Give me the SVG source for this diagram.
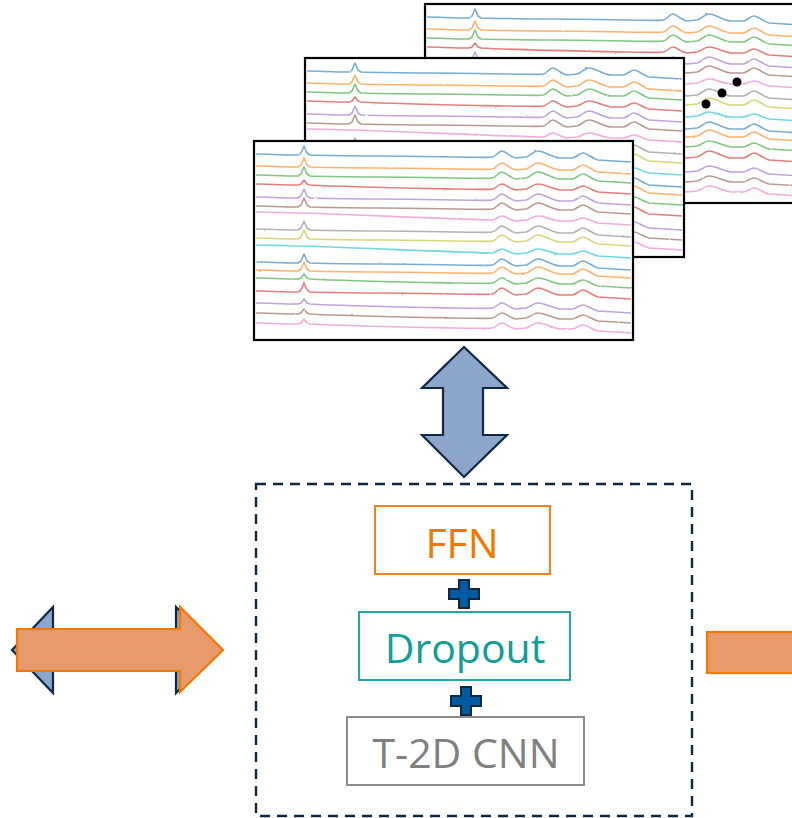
<svg xmlns="http://www.w3.org/2000/svg" xmlns:xlink="http://www.w3.org/1999/xlink" width="792" height="818" viewBox="0 0 792 818">
<style>
.panel{fill:#fff;stroke:#000;stroke-width:2}
.sp{fill:none;stroke-width:1.6;stroke-opacity:0.6;stroke-linejoin:round}
.lbl{font-family:"Open Sans","Noto Sans",sans-serif;font-size:41px;font-weight:500;text-anchor:middle}
.plus{fill:#005BA2;stroke:#0E2841;stroke-width:2;stroke-linejoin:miter}
.bluearrow{fill:#8EA5CB;stroke:#0E2841;stroke-width:2.2;stroke-linejoin:miter}
.orangearrow{fill:#E99A6B;stroke:#F07800;stroke-width:2.2;stroke-linejoin:miter}
</style>
<defs>
<clipPath id="clipPanel"><rect x="0" y="0" width="379" height="199"/></clipPath>
<filter id="noise" x="-5%" y="-5%" width="110%" height="110%">
<feTurbulence type="fractalNoise" baseFrequency="0.25" numOctaves="2" seed="3" result="t"/>
<feDisplacementMap in="SourceGraphic" in2="t" scale="1.6" xChannelSelector="R" yChannelSelector="G"/>
</filter>
<path id="sA" d="M2,0 C12,0 30,1 44,1 L47,-1 L50,-8 L53,-1 L56,1 C90,2 150,2 200,3 C220,3 232,4 238,3 C242,3 244,-3 248,-3 C252,-3 255,3 262,4 L272,3 C277,2 279,-3 284,-3 C291,-3 296,3 306,4 L318,4 C322,4 325,-1 329,-1 C333,-1 337,4 344,6 L377,8"/>
<path id="sC" d="M2,0 C12,0 30,1 44,1 L47,0 L50,-4 L53,0 L56,1 C90,3 150,4 200,5 C220,5 232,6 238,5 C242,5 244,0 248,0 C252,0 255,5 262,6 L272,5 C277,4 279,0 284,0 C291,0 296,4 306,6 L318,6 C322,6 325,2 329,2 C333,2 337,6 344,8 L377,10"/>
<path id="sB" d="M2,0 C80,1 160,6 238,8 C242,8 244,4 248,4 C252,4 255,8 262,9 L272,8 C277,7 279,4 284,4 C291,4 296,8 306,9 L318,9 C322,9 325,6 329,6 C333,6 337,9 344,11 L377,13"/>
<g id="spectra" class="sp" filter="url(#noise)">
<use href="#sA" y="13" stroke="#1f77b4"/>
<use href="#sA" y="25" stroke="#ff7f0e"/>
<use href="#sA" y="34" stroke="#2ca02c"/>
<use href="#sC" y="43" stroke="#d62728"/>
<use href="#sA" y="56" stroke="#9467bd"/>
<use href="#sA" y="65" stroke="#8c564b"/>
<use href="#sB" y="71" stroke="#e377c2"/>
<use href="#sA" y="88" stroke="#7f7f7f"/>
<use href="#sA" y="97" stroke="#bcbd22"/>
<use href="#sB" y="104" stroke="#17becf"/>
<use href="#sA" y="121" stroke="#1f77b4"/>
<use href="#sA" y="129" stroke="#ff7f0e"/>
<use href="#sC" y="137" stroke="#2ca02c"/>
<use href="#sA" y="150" stroke="#d62728"/>
<use href="#sC" y="162" stroke="#9467bd"/>
<use href="#sC" y="172" stroke="#8c564b"/>
<use href="#sC" y="182" stroke="#e377c2"/>
</g>
</defs>

<g id="panel-back">
<rect class="panel" x="425" y="4" width="400" height="199"/>
<use href="#spectra" transform="translate(425,4)" clip-path="url(#clipPanel)"/>
<rect x="425" y="4" width="400" height="199" fill="none" stroke="#000" stroke-width="2.2"/>
<circle cx="706" cy="104" r="4.5" fill="#000"/>
<circle cx="722" cy="93" r="4.5" fill="#000"/>
<circle cx="737" cy="82" r="4.5" fill="#000"/>
</g>
<g id="panel-mid">
<rect class="panel" x="305" y="58" width="379" height="199"/>
<use href="#spectra" transform="translate(305,58)" clip-path="url(#clipPanel)"/>
<rect x="305" y="58" width="379" height="199" fill="none" stroke="#000" stroke-width="2.2"/>
</g>
<g id="panel-front">
<rect class="panel" x="254" y="141" width="379" height="199"/>
<use href="#spectra" transform="translate(254,141)" clip-path="url(#clipPanel)"/>
<rect x="254" y="141" width="379" height="199" fill="none" stroke="#000" stroke-width="2.2"/>
</g>

<g id="block">
<rect x="256" y="484" width="436" height="332" fill="none" stroke="#0E2841" stroke-width="2.4" stroke-dasharray="10,7"/>
</g>
<g id="node-ffn">
<rect x="375" y="506" width="175" height="68" fill="#fff" stroke="#F07800" stroke-width="1.8"/>
<text class="lbl" x="462" y="558" fill="#F07800">FFN</text>
</g>
<g id="node-dropout">
<rect x="359" y="612" width="211" height="68" fill="#fff" stroke="#0F9E99" stroke-width="1.8"/>
<text class="lbl" x="465" y="663" fill="#0F9E99">Dropout</text>
</g>
<g id="node-cnn">
<rect x="347" y="717" width="237" height="68" fill="#fff" stroke="#8C8C8C" stroke-width="2"/>
<text class="lbl" x="466" y="768" fill="#808080">T-2D CNN</text>
</g>

<g id="connectors">
<path class="bluearrow" d="M464,347 L507,388 L483,388 L483,435 L507,435 L464,477 L422,435 L443,435 L443,388 L422,388 Z"/>
<path class="plus" d="M459,580 L469,580 L469,589 L479,589 L479,599 L469,599 L469,608 L459,608 L459,599 L449,599 L449,589 L459,589 Z"/>
<path class="plus" d="M461,687 L471,687 L471,696 L481,696 L481,706 L471,706 L471,715 L461,715 L461,706 L451,706 L451,696 L461,696 Z"/>
</g>

<g id="arrow-left">
<path class="bluearrow" d="M12,650 L53,607 L53,630 L176,630 L176,607 L218,650 L176,693 L176,670 L53,670 L53,693 Z"/>
<path class="orangearrow" d="M17,629 L180,629 L180,607 L223,650 L180,692 L180,671 L17,671 Z"/>
</g>
<g id="arrow-right">
<rect class="orangearrow" x="707" y="632" width="100" height="41"/>
</g>
</svg>
